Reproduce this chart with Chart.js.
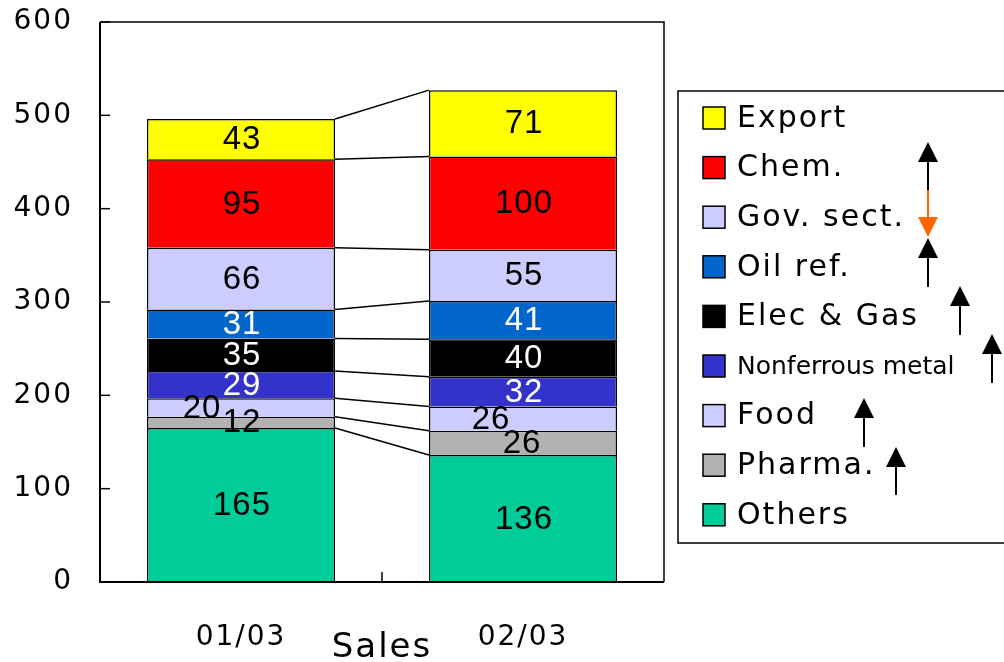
<!DOCTYPE html>
<html>
<head>
<meta charset="utf-8">
<script src="https://cdn.jsdelivr.net/npm/chart.js@4/dist/chart.umd.min.js"></script>
<style>
  html, body { margin: 0; padding: 0; background: #fff; }
  #wrap { width: 1004px; height: 662px; }
</style>
</head>
<body>
<div id="wrap"><canvas id="salesChart" width="1004" height="662"></canvas></div>
<script>
const periods = ["01/03", "02/03"];
const sectors = ["Others", "Pharma.", "Food", "Nonferrous metal", "Elec & Gas", "Oil ref.", "Gov. sect.", "Chem.", "Export"];
const others = [165, 136];
const pharma = [12, 26];
const food = [20, 26];
const nonferrous = [29, 32];
const elecGas = [35, 40];
const oilRef = [31, 41];
const govSect = [66, 55];
const chem = [95, 100];
const exportSales = [43, 71];
const yTicks = [0, 100, 200, 300, 400, 500, 600];

const FONT = "'DejaVu Sans', Verdana, sans-serif";
const LABEL_FONT = "'Liberation Sans', Arial, sans-serif";
const colors = ["#00CC99", "#B2B2B2", "#CCCCFF", "#3333CC", "#000000", "#0066CC", "#CCCCFF", "#FF0000", "#FFFF00"];
const labelColors = ["#000", "#000", "#000", "#fff", "#fff", "#fff", "#000", "#000", "#000"];
// small nudges so the overlapping labels look like the original
const labelShift = { 2: [-40, -33], 1: [0, -2] };

const series = [others, pharma, food, nonferrous, elecGas, oilRef, govSect, chem, exportSales];

const PLOT_TOP = 22;

const extras = {
    id: "extras",
    afterLayout(chart) {
        // pin the top of the plot box where the original has it
        const y = chart.scales.y;
        chart.chartArea.top = PLOT_TOP;
        chart.chartArea.height = chart.chartArea.bottom - PLOT_TOP;
        y.top = PLOT_TOP;
        y.height = y.bottom - PLOT_TOP;
        y.configure();
    },
    beforeDraw(chart) {
        chart.ctx.letterSpacing = "2px";
    },
    afterDatasetsDraw(chart) {
        const ctx = chart.ctx;
        const { left, right, top, bottom } = chart.chartArea;
        ctx.save();

        // connector lines between the stacks
        ctx.strokeStyle = "#000";
        ctx.lineWidth = 1.5;
        chart.data.datasets.forEach((ds, i) => {
            const m = chart.getDatasetMeta(i);
            const a = m.data[0], b = m.data[1];
            ctx.beginPath();
            ctx.moveTo(a.x + a.width / 2, a.y);
            ctx.lineTo(b.x - b.width / 2, b.y);
            ctx.stroke();
        });

        // plot frame
        ctx.lineWidth = 1.5;
        ctx.beginPath();
        ctx.moveTo(left, top);
        ctx.lineTo(right, top);
        ctx.lineTo(right, bottom);
        ctx.stroke();
        ctx.lineWidth = 2;
        ctx.beginPath();
        ctx.moveTo(left, top);
        ctx.lineTo(left, bottom);
        ctx.lineTo(right, bottom);
        ctx.stroke();

        // inward tick marks
        const ys = chart.scales.y;
        ctx.lineWidth = 1.5;
        yTicks.forEach(v => {
            const py = ys.getPixelForValue(v);
            ctx.beginPath();
            ctx.moveTo(left, py);
            ctx.lineTo(left + 10, py);
            ctx.stroke();
        });
        const midX = (left + right) / 2;
        ctx.beginPath();
        ctx.moveTo(midX, bottom);
        ctx.lineTo(midX, bottom - 10);
        ctx.stroke();

        // value labels
        ctx.font = "33px " + LABEL_FONT;
        ctx.letterSpacing = "1px";
        ctx.textAlign = "center";
        ctx.textBaseline = "middle";
        chart.data.datasets.forEach((ds, i) => {
            const m = chart.getDatasetMeta(i);
            m.data.forEach((el, j) => {
                const dx = labelShift[i] ? labelShift[i][j] : 0;
                ctx.fillStyle = labelColors[i];
                ctx.fillText(String(ds.data[j]), el.x + dx + 1, (el.y + el.base) / 2 + 1);
            });
        });

        // legend
        const lx = 678, ly = 91, lb = 543;
        ctx.lineWidth = 1.5;
        ctx.strokeRect(lx, ly, 340, lb - ly);
        ctx.textAlign = "left";
        const n = chart.data.datasets.length;
        for (let k = 0; k < n; k++) {
            const i = n - 1 - k;
            const cy = 118 + k * 49.6;
            ctx.fillStyle = colors[i];
            ctx.fillRect(703, cy - 11, 22, 22);
            ctx.lineWidth = 1.5;
            ctx.strokeStyle = "#000";
            ctx.strokeRect(703, cy - 11, 22, 22);
            ctx.fillStyle = "#000";
            const small = sectors[i] === "Nonferrous metal";
            ctx.font = (small ? "25px " : "30px ") + FONT;
            ctx.letterSpacing = small ? "0px" : "2px";
            ctx.fillText(sectors[i], 737, cy + 1);
        }

        // trend arrows next to the legend
        const arrows = [
            { x: 928, from: 190, to: 142, c: "#000" },
            { x: 928, from: 190, to: 237, c: "#FF6600" },
            { x: 928, from: 287, to: 238, c: "#000" },
            { x: 960, from: 335, to: 286, c: "#000" },
            { x: 992, from: 383, to: 334, c: "#000" },
            { x: 864, from: 447, to: 398, c: "#000" },
            { x: 896, from: 495, to: 447, c: "#000" }
        ];
        arrows.forEach(a => {
            const dir = a.to < a.from ? 1 : -1;
            ctx.strokeStyle = a.c;
            ctx.fillStyle = a.c;
            ctx.lineWidth = 2;
            ctx.beginPath();
            ctx.moveTo(a.x, a.from);
            ctx.lineTo(a.x, a.to + dir * 18);
            ctx.stroke();
            ctx.beginPath();
            ctx.moveTo(a.x, a.to);
            ctx.lineTo(a.x - 10, a.to + dir * 20);
            ctx.lineTo(a.x + 10, a.to + dir * 20);
            ctx.closePath();
            ctx.fill();
        });

        ctx.restore();
    }
};

new Chart(document.getElementById("salesChart"), {
    type: "bar",
    data: {
        labels: periods,
        datasets: series.map((d, i) => ({
            label: sectors[i],
            data: d,
            backgroundColor: colors[i],
            borderColor: "#000",
            borderWidth: 1.5,
            categoryPercentage: 1,
            barPercentage: 0.667
        }))
    },
    options: {
        responsive: false,
        animation: false,
        layout: { padding: { top: 2, right: 340, left: 0, bottom: 0 } },
        plugins: {
            legend: { display: false },
            tooltip: { enabled: false }
        },
        scales: {
            x: {
                stacked: true,
                grid: { display: false, drawTicks: false },
                border: { display: false },
                ticks: { color: "#000", font: { family: FONT, size: 28 }, padding: 39 },
                title: { display: true, text: "Sales", color: "#000", font: { family: FONT, size: 34 }, padding: { top: 0, bottom: -7 } },
                afterFit(s) { s.height = 80; }
            },
            y: {
                stacked: true,
                min: 0,
                max: 600,
                ticks: { stepSize: 100, color: "#000", font: { family: FONT, size: 28 }, padding: 27 },
                grid: { display: false, drawTicks: false },
                border: { display: false },
                afterFit(s) { s.width = 100; }
            }
        }
    },
    plugins: [extras]
});
</script>
</body>
</html>
